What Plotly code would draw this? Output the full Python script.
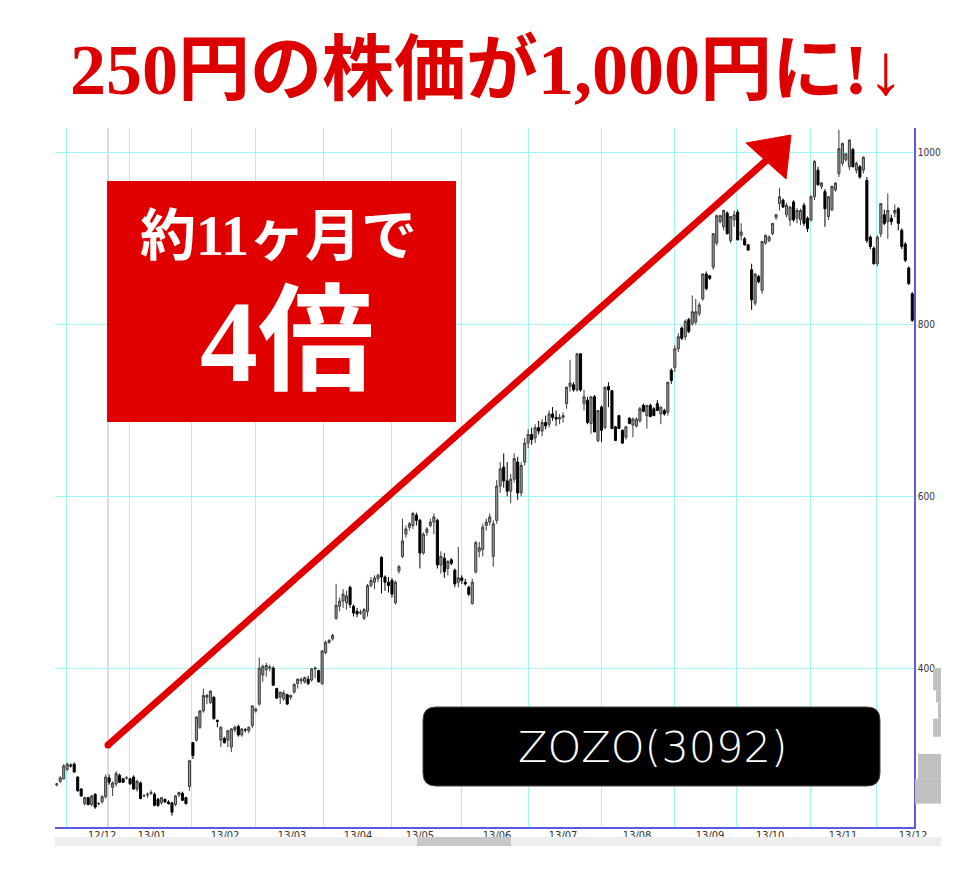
import plotly.graph_objects as go

# ---------------- data ----------------
OPEN = [264, 268, 271, 282, 287, 288, 273, 259, 242, 249,
        241, 253, 242, 244, 250, 272, 261, 265, 275, 271,
        272, 271, 273, 259, 266, 251, 252, 254, 253, 247,
        243, 247, 244, 243, 241, 252, 254, 249, 262, 313,
        316, 331, 350, 366, 360, 366, 339, 316, 318, 316,
        308, 328, 332, 322, 328, 327, 333, 350, 358, 392,
        398, 400, 400, 376, 366, 364, 369, 366, 372, 382,
        385, 384, 387, 386, 399, 397, 382, 418, 430, 434,
        458, 472, 478, 476, 494, 472, 466, 464, 458, 466,
        496, 500, 504, 529, 506, 500, 502, 476, 513, 530,
        556, 564, 566, 578, 572, 534, 558, 566, 570, 572,
        520, 528, 516, 526, 514, 500, 505, 500, 494, 475,
        512, 536, 538, 566, 570, 530, 572, 612, 634, 618,
        606, 620, 640, 604, 640, 662, 672, 668, 680, 676,
        686, 684, 696, 692, 690, 692, 708, 728, 730, 724,
        766, 708, 712, 685, 716, 665, 704, 680, 728, 723,
        681, 694, 677, 669, 691, 683, 682, 688, 706, 694,
        706, 702, 708, 696, 700, 698, 747, 750, 772, 796,
        786, 806, 801, 803, 813, 830, 859, 857, 867, 895,
        920, 914, 930, 898, 922, 931, 904, 900, 893, 864,
        825, 856, 840, 895, 898, 906, 925, 941, 945, 928,
        922, 943, 924, 922, 939, 924, 922, 949, 980, 961,
        955, 926, 934, 957, 976, 988, 992, 984, 1004, 980,
        984, 980, 968, 902, 889, 871, 906, 928, 920, 924,
        930, 935, 910, 894, 866, 836]
HIGH = [266, 274, 288, 290, 289, 290, 274, 260, 250, 250,
        252, 254, 244, 252, 276, 276, 268, 280, 277, 272,
        274, 272, 275, 270, 268, 253, 255, 258, 255, 249,
        249, 248, 246, 244, 252, 256, 256, 250, 293, 314,
        343, 351, 376, 370, 374, 367, 340, 332, 320, 328,
        330, 333, 334, 330, 330, 332, 356, 354, 412, 404,
        406, 404, 402, 377, 372, 374, 370, 369, 382, 388,
        389, 390, 391, 400, 402, 398, 420, 432, 434, 440,
        498, 482, 492, 490, 496, 474, 470, 468, 470, 498,
        506, 508, 510, 530, 508, 506, 505, 502, 520, 574,
        566, 570, 582, 581, 574, 558, 564, 574, 580, 574,
        536, 534, 526, 528, 516, 541, 508, 504, 496, 504,
        548, 547, 568, 574, 580, 572, 619, 640, 650, 640,
        626, 650, 646, 640, 668, 678, 680, 684, 688, 690,
        694, 700, 704, 700, 696, 698, 728, 759, 733, 767,
        767, 724, 716, 716, 718, 700, 706, 728, 733, 724,
        682, 695, 678, 682, 692, 692, 692, 704, 708, 706,
        708, 704, 712, 704, 702, 733, 749, 776, 790, 798,
        806, 808, 834, 830, 826, 860, 862, 858, 906, 928,
        928, 934, 932, 926, 933, 934, 918, 902, 894, 871,
        860, 858, 897, 905, 904, 918, 929, 959, 947, 942,
        938, 945, 936, 935, 942, 926, 951, 992, 984, 966,
        958, 950, 962, 966, 1027, 1012, 1000, 1016, 1006, 990,
        986, 996, 972, 904, 891, 904, 941, 934, 953, 928,
        940, 937, 912, 896, 868, 838]
LOW = [262, 266, 270, 280, 284, 278, 256, 250, 240, 240,
       239, 236, 240, 242, 248, 264, 251, 262, 266, 266,
       270, 264, 258, 256, 247, 250, 249, 252, 239, 238,
       241, 243, 241, 228, 239, 250, 245, 241, 257, 294,
       314, 329, 348, 358, 358, 340, 331, 308, 312, 308,
       302, 325, 320, 320, 325, 324, 330, 348, 356, 384,
       390, 396, 379, 364, 358, 362, 357, 363, 370, 376,
       381, 382, 380, 384, 388, 383, 380, 416, 428, 432,
       456, 466, 470, 468, 470, 460, 459, 462, 456, 460,
       494, 492, 500, 487, 490, 488, 482, 474, 510, 528,
       552, 560, 562, 566, 516, 532, 554, 564, 556, 516,
       510, 505, 508, 520, 494, 494, 498, 496, 484, 474,
       510, 529, 530, 560, 566, 518, 568, 604, 610, 600,
       592, 616, 596, 600, 636, 656, 660, 662, 672, 670,
       678, 680, 688, 682, 684, 686, 702, 722, 722, 722,
       722, 700, 684, 673, 675, 663, 663, 678, 704, 678,
       665, 679, 661, 666, 684, 669, 680, 686, 698, 679,
       692, 694, 700, 684, 694, 694, 731, 745, 768, 782,
       782, 790, 799, 800, 810, 828, 840, 852, 864, 892,
       918, 910, 905, 895, 914, 898, 898, 892, 886, 817,
       822, 848, 836, 893, 896, 904, 922, 933, 936, 925,
       915, 920, 918, 916, 915, 908, 920, 945, 962, 958,
       914, 922, 932, 955, 972, 985, 990, 980, 983, 976,
       970, 976, 895, 888, 870, 868, 902, 916, 900, 916,
       925, 910, 888, 873, 846, 803]
CLOSE = [265, 272, 286, 288, 286, 279, 257, 251, 249, 241,
         251, 238, 242, 250, 273, 267, 266, 277, 267, 267,
         272, 265, 259, 268, 248, 251, 253, 255, 240, 240,
         249, 244, 242, 232, 251, 255, 246, 242, 292, 298,
         343, 350, 368, 368, 373, 341, 338, 331, 313, 327,
         329, 331, 322, 329, 328, 331, 356, 352, 400, 402,
         403, 401, 380, 365, 372, 371, 358, 368, 381, 387,
         387, 389, 382, 399, 400, 384, 420, 430, 432, 438,
         473, 478, 486, 484, 474, 464, 463, 465, 468, 496,
         502, 505, 508, 506, 500, 496, 486, 500, 518, 548,
         562, 568, 580, 572, 534, 556, 562, 570, 576, 520,
         530, 512, 524, 522, 498, 505, 502, 498, 486, 500,
         546, 540, 564, 570, 576, 568, 612, 632, 618, 606,
         620, 644, 604, 636, 662, 672, 666, 680, 676, 686,
         682, 696, 692, 690, 692, 694, 727, 732, 724, 766,
         724, 716, 686, 716, 675, 700, 677, 727, 724, 679,
         665, 679, 662, 681, 685, 690, 690, 702, 699, 706,
         693, 694, 700, 704, 696, 733, 735, 772, 786, 784,
         804, 792, 815, 815, 823, 859, 842, 854, 906, 927,
         927, 933, 906, 926, 928, 899, 908, 893, 887, 829,
         859, 850, 897, 904, 902, 918, 928, 949, 937, 939,
         937, 922, 933, 933, 918, 912, 949, 990, 963, 965,
         935, 949, 961, 965, 1005, 1011, 999, 1015, 984, 988,
         972, 995, 898, 891, 871, 902, 941, 918, 933, 920,
         933, 918, 891, 875, 848, 805]

MONTH_LABELS = ["12/12", "13/01", "13/02", "13/03", "13/04", "13/05", "13/06",
                "13/07", "13/08", "13/09", "13/10", "13/11", "13/12"]
MONTH_POS = [13.0, 27.3, 48.2, 67.4, 86.3, 104.0, 126.1,
             145.0, 166.2, 187.1, 204.3, 225.2, 245.2]
GRID_POS = [2.65, 20.7, 38.7, 56.8, 76.3, 96.0, 116.05,
            135.0, 155.9, 176.8, 194.8, 216.0, 234.9]
MARK_1212 = 14.7
PRICE_TICKS = [400, 600, 800, 1000]

PROFILE_PRICE = [387, 367, 350.5, 330.5, 285.5, 256.5]
PROFILE_BIN = [26, 14, 19, 21, 29, 29]
PROFILE_VOL = [8, 5, 3, 8, 23, 26]

TITLE = "250円の株価が1,000円に!↓"
BOX_LINE1 = "約11ヶ月で"
BOX_LINE2 = "4倍"
TICKER = "ZOZO(3092)"

# ---------------- layout geometry (page pixels) ----------------
OFF = 8                       # page body margin
W, H = 980 - OFF, 880 - OFF   # figure size so that it ends at the window edge
L, R, T, B = 55, 941, 128, 827
AXIS_R = 914
PW, PH = R - L, B - T

def PX(x):
    return (x - L) / PW

def PY(y):
    return (B - y) / PH

N = len(CLOSE)
XIDX = list(range(N))
XR = [-0.5, N - 0.5]
YR = [214.8, 1029.1]

RED = "#e00000"
CYAN = "rgb(160,246,246)"
BLUE = "#5a5ae0"

fig = go.Figure()
fig.add_trace(go.Candlestick(
    x=XIDX, open=OPEN, high=HIGH, low=LOW, close=CLOSE,
    increasing=dict(line=dict(color="#3c3c3c", width=1), fillcolor="#9a9a9a"),
    decreasing=dict(line=dict(color="#000000", width=1), fillcolor="#000000"),
    whiskerwidth=0, showlegend=False, hoverinfo="skip",
    xaxis="x", yaxis="y"))

# invisible carrier so the month-label axis is drawn
fig.add_trace(go.Scatter(x=XR, y=[YR[0], YR[0]], mode="none", showlegend=False,
                         hoverinfo="skip", xaxis="x2", yaxis="y"))

fig.add_trace(go.Bar(
    y=PROFILE_PRICE, x=PROFILE_VOL, width=PROFILE_BIN, orientation="h",
    marker=dict(color="#c0c0c0", line=dict(width=0)),
    showlegend=False, hoverinfo="skip", xaxis="x3", yaxis="y2"))

tick_family = "Liberation Sans Narrow, DejaVu Sans Condensed, Arial Narrow, sans-serif"

dom_main = [0, PX(AXIS_R)]
fig.update_layout(
    width=W, height=H,
    margin=dict(l=L - OFF, r=W - (R - OFF), t=T - OFF, b=H - (B - OFF), autoexpand=False),
    paper_bgcolor="white", plot_bgcolor="white",
    showlegend=False, boxgap=0.15,
    xaxis=dict(domain=dom_main, range=XR, anchor="y",
               tickmode="array", tickvals=GRID_POS, showticklabels=False,
               showgrid=True, gridcolor=CYAN, gridwidth=1,
               zeroline=False, showline=True, linecolor=BLUE, linewidth=1.5,
               ticks="", rangeslider=dict(visible=False), fixedrange=True),
    xaxis2=dict(overlaying="x", matches="x", range=XR, anchor="y", side="bottom",
                tickmode="array", tickvals=MONTH_POS, ticktext=MONTH_LABELS,
                showgrid=False, zeroline=False, showline=False, ticks="",
                tickfont=dict(family=tick_family, size=11, color="#333333"),
                fixedrange=True),
    yaxis=dict(domain=[0, 1], range=YR, anchor="x", side="right",
               tickmode="array", tickvals=PRICE_TICKS,
               ticktext=[str(v) for v in PRICE_TICKS],
               showgrid=True, gridcolor=CYAN, gridwidth=1,
               zeroline=False, showline=True, linecolor=BLUE, linewidth=1.5,
               ticks="", tickfont=dict(family=tick_family, size=10, color="#333333"),
               fixedrange=True),
    xaxis3=dict(domain=[PX(AXIS_R), 1], range=[27, 0], anchor="y2",
                visible=False, fixedrange=True),
    yaxis2=dict(domain=[0, 1], range=YR, anchor="x3", visible=False, fixedrange=True),
)

shapes = []
shapes.append(dict(type="line", xref="x", yref="paper", x0=MARK_1212, x1=MARK_1212,
                   y0=0, y1=1, line=dict(color="#d0d0d0", width=1.5), layer="below"))
shapes.append(dict(type="rect", xref="paper", yref="paper",
                   x0=PX(55), x1=PX(941), y0=PY(846), y1=PY(837),
                   fillcolor="#eeeeee", line=dict(width=0)))
shapes.append(dict(type="rect", xref="paper", yref="paper",
                   x0=PX(417), x1=PX(511), y0=PY(846), y1=PY(837),
                   fillcolor="#c8c8c8", line=dict(width=0)))
shapes.append(dict(type="rect", xref="paper", yref="paper",
                   x0=PX(107), x1=PX(456), y0=PY(422), y1=PY(181),
                   fillcolor=RED, line=dict(width=0), layer="above"))

def rounded(x0, y0, x1, y1, r):
    pts = [("M", [(x0 + r, y0)]), ("L", [(x1 - r, y0)]), ("Q", [(x1, y0), (x1, y0 + r)]),
           ("L", [(x1, y1 - r)]), ("Q", [(x1, y1), (x1 - r, y1)]),
           ("L", [(x0 + r, y1)]), ("Q", [(x0, y1), (x0, y1 - r)]),
           ("L", [(x0, y0 + r)]), ("Q", [(x0, y0), (x0 + r, y0)])]
    s = ""
    for cmd, ps in pts:
        s += cmd + " ".join(f"{PX(a):.5f},{PY(b):.5f}" for a, b in ps) + " "
    return s + "Z"

shapes.append(dict(type="path", xref="paper", yref="paper",
                   path=rounded(423, 707, 880, 786, 13),
                   fillcolor="#000000", line=dict(color="#444444", width=1), layer="above"))

shapes.append(dict(type="line", xref="paper", yref="paper",
                   x0=PX(108), y0=PY(745), x1=PX(768), y1=PY(159),
                   line=dict(color=RED, width=7), layer="above"))
shapes.append(dict(type="circle", xref="paper", yref="paper",
                   x0=PX(104.5), x1=PX(111.5), y0=PY(748.5), y1=PY(741.5),
                   fillcolor=RED, line=dict(width=0), layer="above"))
tri = [(746, 143), (791, 135), (786, 179)]
shapes.append(dict(type="path", xref="paper", yref="paper",
                   path="M" + " L".join(f"{PX(a):.5f},{PY(b):.5f}" for a, b in tri) + " Z",
                   fillcolor=RED, line=dict(color=RED, width=1), layer="above"))
fig.update_layout(shapes=shapes)

serif = "Liberation Serif, Noto Sans CJK JP, serif"
ann = [
    dict(text=TITLE, x=PX(487), y=PY(70), xref="paper", yref="paper",
         xanchor="center", yanchor="middle", showarrow=False,
         font=dict(family=serif, size=72, color="#dd0000", weight="bold")),
    dict(text=BOX_LINE1, x=PX(278), y=PY(236), xref="paper", yref="paper",
         xanchor="center", yanchor="middle", showarrow=False,
         font=dict(family=serif, size=56, color="white", weight="bold")),
    dict(text=BOX_LINE2, x=PX(287), y=PY(342), xref="paper", yref="paper",
         xanchor="center", yanchor="middle", showarrow=False,
         font=dict(family=serif, size=116, color="white", weight="bold")),
    dict(text=TICKER, x=PX(653), y=PY(747), xref="paper", yref="paper",
         xanchor="center", yanchor="middle", showarrow=False,
         font=dict(family="DejaVu Sans, sans-serif", size=43, color="white", weight=200)),
]
fig.update_layout(annotations=ann)

fig.write_html("out.html")
